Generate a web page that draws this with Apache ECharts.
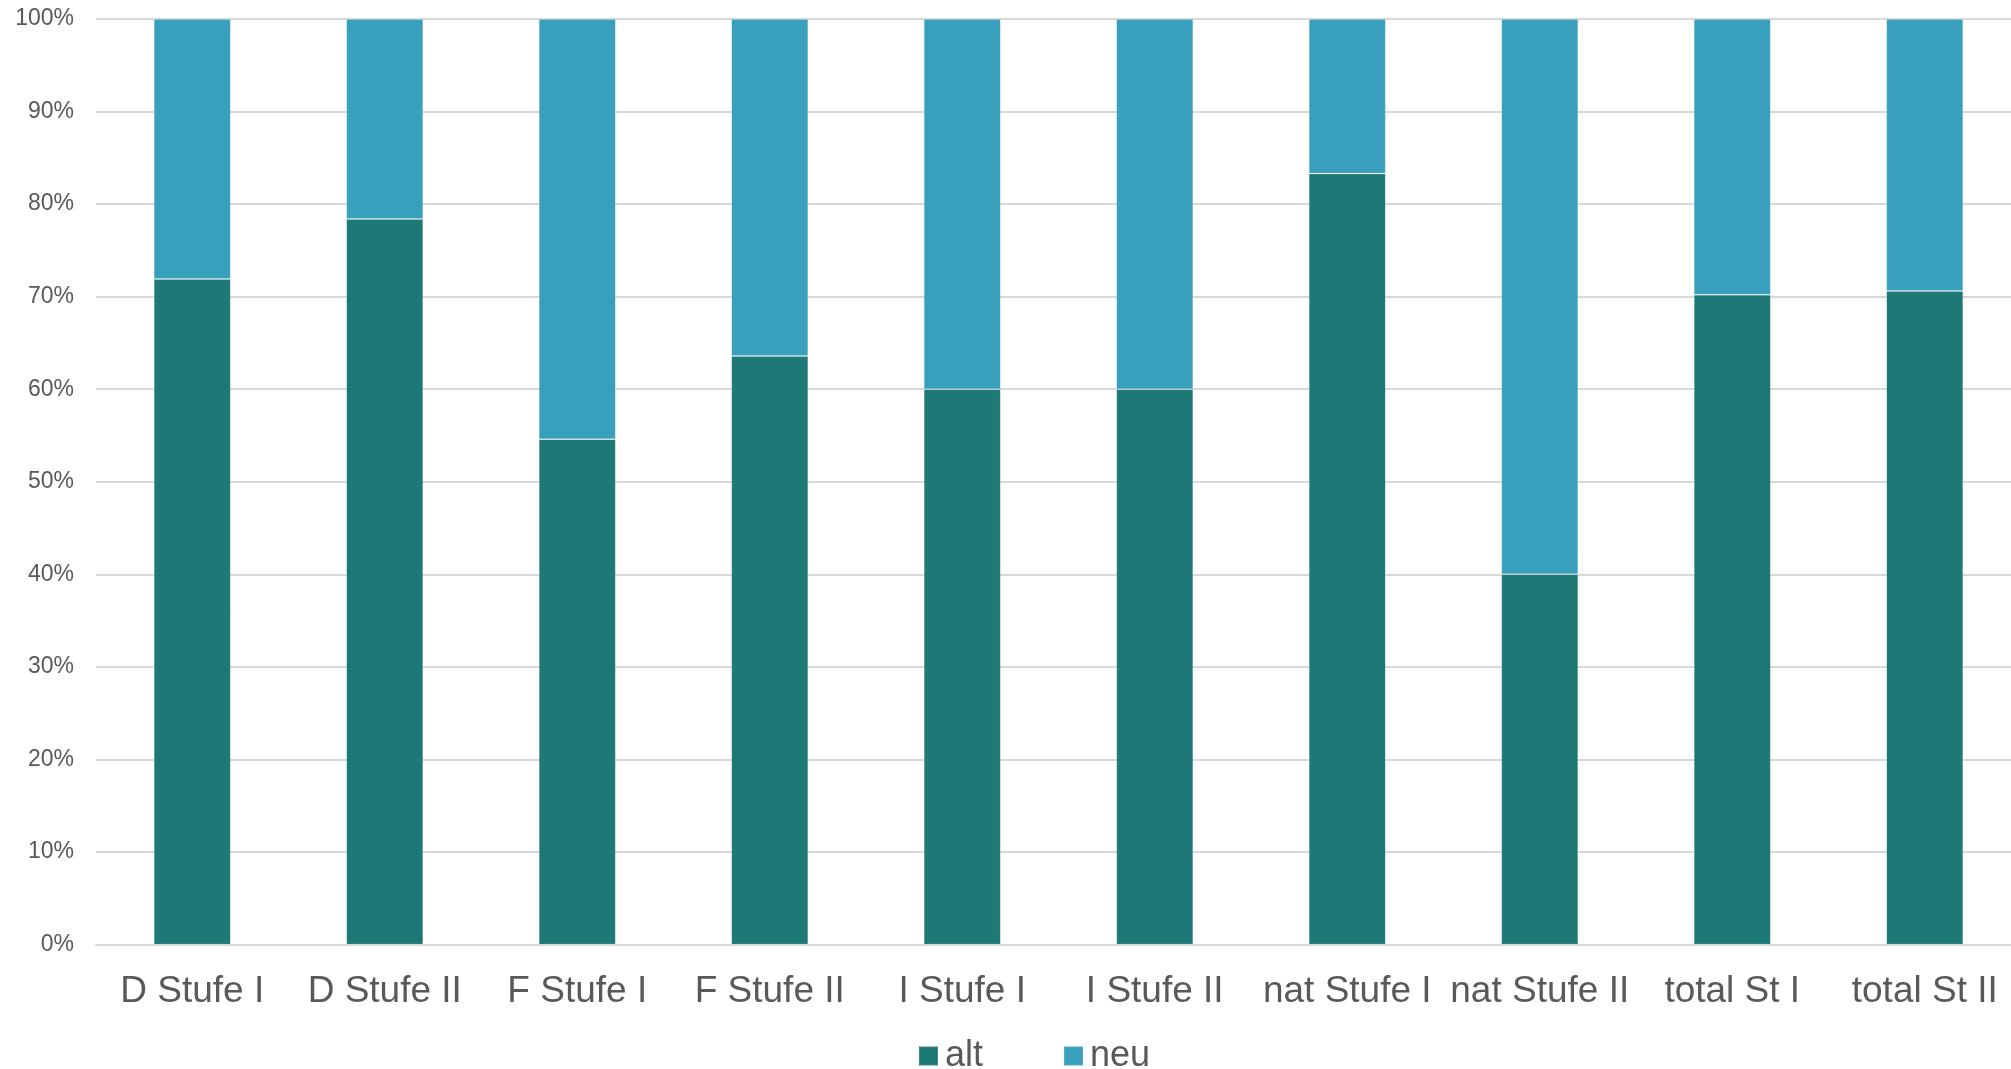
<!DOCTYPE html>
<html>
<head>
<meta charset="utf-8">
<script src="https://cdn.jsdelivr.net/npm/echarts@6/dist/echarts.min.js"></script>
<style>
html,body{margin:0;padding:0;background:#fff;overflow:hidden;width:2011px;height:1069px;}
#chart{width:2021px;height:1069px;}
</style>
</head>
<body>
<div id="chart"></div>
<script>
const categories = ['D Stufe I','D Stufe II','F Stufe I','F Stufe II','I Stufe I','I Stufe II','nat Stufe I','nat Stufe II','total St I','total St II'];
const altValues = [71.9, 78.4, 54.6, 63.6, 60.0, 60.0, 83.3, 40.0, 70.2, 70.6];
const neuValues = [28.1, 21.6, 45.4, 36.4, 40.0, 40.0, 16.7, 60.0, 29.8, 29.4];
const seriesNames = ['alt', 'neu'];
const yTicks = [0, 10, 20, 30, 40, 50, 60, 70, 80, 90, 100];

const chart = echarts.init(document.getElementById('chart'), null, {renderer: 'canvas'});
const font = '"Liberation Sans", Arial, sans-serif';
chart.setOption({
  animation: false,
  backgroundColor: '#ffffff',
  grid: {left: 96, right: 0, top: 19, bottom: 124.5, containLabel: false},
  legend: {
    data: seriesNames,
    left: 913,
    top: 1033,
    itemWidth: 19,
    itemHeight: 19,
    itemGap: 80,
    icon: 'rect',
    textStyle: {fontFamily: font, fontSize: 36, color: '#595959', padding: [0, 0, 0, 2]}
  },
  xAxis: {
    type: 'category',
    data: categories,
    axisLine: {show: true, lineStyle: {color: '#d9d9d9', width: 2}},
    axisTick: {show: false},
    axisLabel: {fontFamily: font, fontSize: 37, color: '#595959', margin: 29, interval: 0}
  },
  yAxis: {
    type: 'value',
    min: yTicks[0],
    max: yTicks[yTicks.length - 1],
    interval: 10,
    axisLine: {show: false},
    axisTick: {show: false},
    splitLine: {lineStyle: {color: '#d9d9d9', width: 2}},
    axisLabel: {fontFamily: font, fontSize: 23, color: '#595959', margin: 22, formatter: '{value}%'}
  },
  series: [
    {name: seriesNames[0], type: 'bar', stack: 'total', data: altValues, barWidth: '40%',
     itemStyle: {color: '#1e7876', borderColor: 'rgba(255,255,255,0.12)', borderWidth: 1}},
    {name: seriesNames[1], type: 'bar', stack: 'total', data: neuValues, barWidth: '40%',
     itemStyle: {color: '#389fbd', borderColor: 'rgba(255,255,255,0.12)', borderWidth: 1}}
  ]
});
</script>
</body>
</html>
